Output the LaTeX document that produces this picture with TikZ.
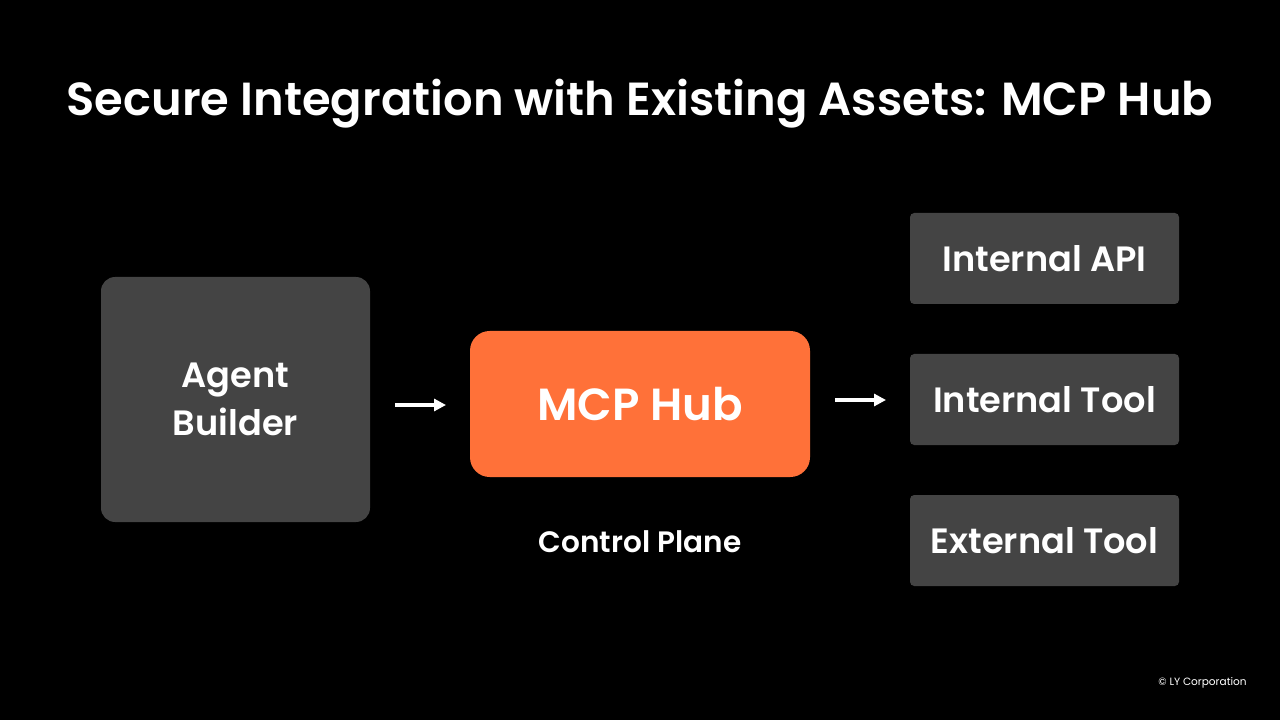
\documentclass[tikz,border=0pt]{standalone}
\usepackage{fontspec}
\setmainfont{Poppins}[BoldFont={Poppins SemiBold}]
\usetikzlibrary{arrows.meta,positioning}
\definecolor{slate}{RGB}{68,68,68}
\definecolor{tangerine}{RGB}{255,113,57}
\tikzset{
  >={Triangle[length=3mm,width=3mm]},
  block/.style={fill=slate,text=white,rounded corners=#1,align=center,
    font=\fontsize{25}{32}\selectfont\bfseries},
  block/.default=3pt,
  hub/.style={fill=tangerine,text=white,rounded corners=14pt,align=center,
    font=\fontsize{32}{38}\selectfont\bfseries},
  flow/.style={->,line width=2.2pt,white},
}
\begin{document}
\begin{tikzpicture}[x=0.025cm,y=-0.025cm]
  \fill[black] (0,0) rectangle (1280,720);
  \useasboundingbox (0,0) rectangle (1280,720);
  % title
  \node[text=white,font=\fontsize{33}{40}\selectfont\bfseries] (title) at (640,104) {Secure Integration with Existing Assets: MCP Hub};
  % left and centre
  \node[block=10pt,minimum width=269*0.025cm,minimum height=245*0.025cm] (agent) at (235.5,399.5) {Agent\\[2pt]Builder};
  \node[hub,minimum width=340*0.025cm,minimum height=146*0.025cm] (hub) at (640,404) {MCP Hub};
  \node[text=white,font=\fontsize{21}{25}\selectfont\bfseries] (plane) at (640,542) {Control Plane};
  % targets
  \foreach \n/\y/\t in {api/258.5/Internal API,tool/399.5/Internal Tool,ext/540.5/External Tool}
    \node[block,minimum width=269*0.025cm,minimum height=91*0.025cm] (\n) at (1044.5,\y) {\t};
  \coordinate (a1) at (395,405); \coordinate (a2) at (446,405);
  \coordinate (b1) at (835,400); \coordinate (b2) at (886,400);
  \draw[flow] (a1) -- (a2);
  \draw[flow] (b1) -- (b2);
  \node[text=white,font=\fontsize{7.5}{9}\selectfont,anchor=east,inner sep=0pt] (copy) at (1247,683) {\textcopyright{} LY Corporation};
\end{tikzpicture}
\end{document}
